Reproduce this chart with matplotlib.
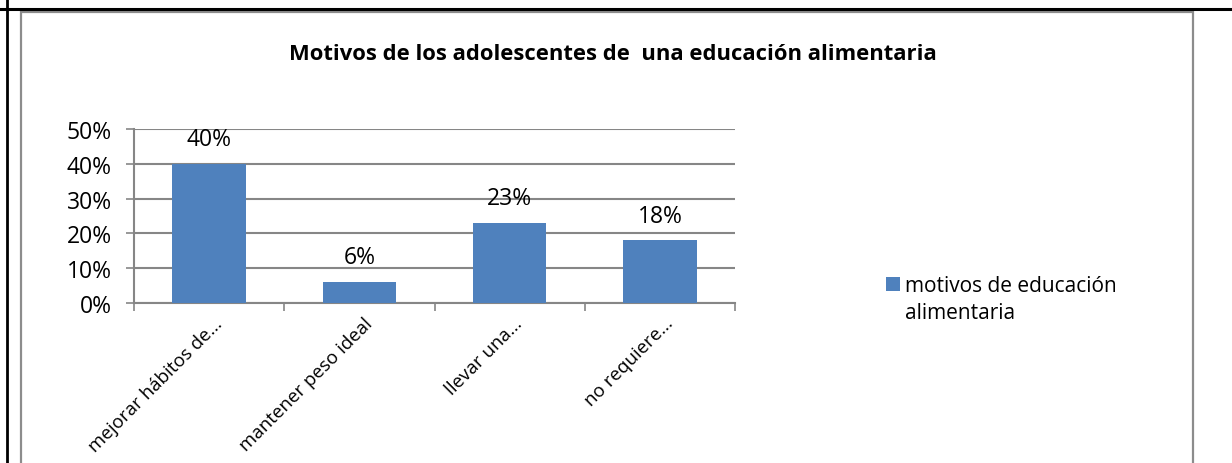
import matplotlib
matplotlib.use("Agg")
import matplotlib.pyplot as plt
import matplotlib.transforms as mtransforms
from matplotlib.lines import Line2D
from matplotlib.patches import Rectangle

# datos del grafico
categorias = ["mejorar hábitos de...", "mantener peso ideal", "llevar una...", "no requiere..."]
valores = [40, 6, 23, 18]
etiquetas = ["40%", "6%", "23%", "18%"]
serie = "motivos de educación\nalimentaria"
titulo = "Motivos de los adolescentes de  una educación alimentaria"
ticks_y = [0, 10, 20, 30, 40, 50]
color_barra = "#4F81BD"

plt.rcParams['font.family'] = ['Open Sans', 'DejaVu Sans']

W, H = 1232, 464
fig = plt.figure(figsize=(W / 100, H / 100), dpi=100)

# marco de la tabla del documento (lineas negras) y borde gris del grafico
fig.add_artist(Line2D([0, 1], [1 - 10 / H, 1 - 10 / H], color="black", lw=2.2))
fig.add_artist(Line2D([6.5 / W, 6.5 / W], [0, 1], color="black", lw=2.0))
fig.add_artist(Rectangle((20.5 / W, -0.05), (1193 - 20.5) / W, 1.05 - 12.5 / H,
                         fill=False, edgecolor="#8c8c8c", lw=1.6))

ax = fig.add_axes([134 / W, 1 - 304 / H, (735 - 134) / W, (304 - 130) / H])

x = list(range(len(categorias)))
ax.bar(x, valores, width=0.49, color=color_barra, zorder=3)
for i, v in enumerate(valores):
    ax.annotate(etiquetas[i], (i, v), xytext=(0, 13.5), textcoords="offset points",
                ha="center", va="baseline", fontsize=16.5)

ax.set_xlim(-0.5, len(categorias) - 0.5)
ax.set_ylim(0, 50)
ax.set_yticks(ticks_y)
ax.set_yticklabels([f"{t}%" for t in ticks_y], fontsize=16.5)
ax.yaxis.grid(True, color="#868686", lw=1.5, zorder=0)
ax.tick_params(axis="y", length=6, width=1.2, color="#868686", direction="out", pad=10)

ax.set_xticks([i - 0.5 for i in range(len(categorias) + 1)], minor=False)
ax.set_xticklabels([])
ax.tick_params(axis="x", which="major", length=6, width=1.2, color="#868686", direction="out")
ax.set_xticks(x, minor=True)
ax.set_xticklabels(categorias, minor=True, rotation=45, ha="right", va="center",
                   rotation_mode="anchor", fontsize=13.5)
ax.tick_params(axis="x", which="minor", length=0, pad=12.5)
desplaz = mtransforms.ScaledTranslation(10 / 100, 0, fig.dpi_scale_trans)
for lab in ax.get_xticklabels(minor=True):
    lab.set_transform(lab.get_transform() + desplaz)

for s in ["top", "right"]:
    ax.spines[s].set_visible(False)
for s in ["left", "bottom"]:
    ax.spines[s].set_color("#868686")
    ax.spines[s].set_linewidth(1.5)

fig.text(613 / W, 1 - 54 / H, titulo, ha="center", va="center",
         fontsize=15.8, fontweight="bold")

# leyenda (cuadro alineado con la primera linea, como en Excel)
fig.add_artist(Rectangle((886 / W, 1 - 292 / H), 14 / W, 14 / H,
                         facecolor=color_barra, edgecolor="none"))
fig.text(905 / W, 1 - 276 / H, serie, ha="left", va="top",
         fontsize=15, linespacing=1.4)

fig.savefig("out.png", dpi=100, facecolor="white")
